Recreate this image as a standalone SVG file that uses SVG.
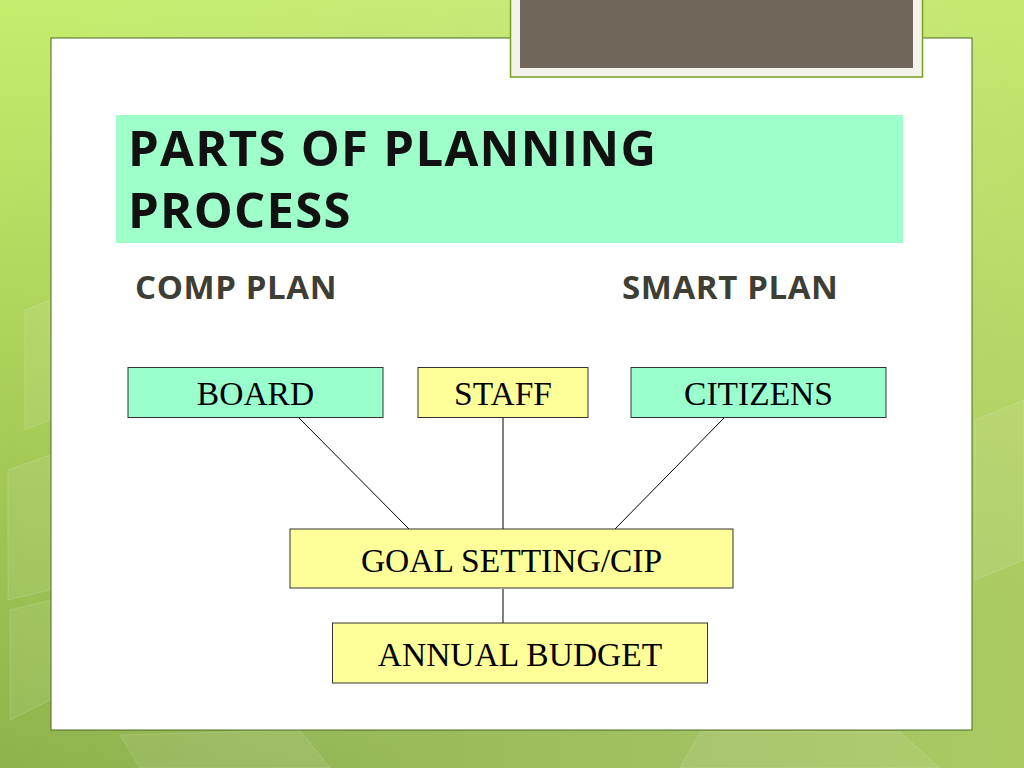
<svg xmlns="http://www.w3.org/2000/svg" width="1024" height="768" viewBox="0 0 1024 768">
<defs>
<linearGradient id="bg" x1="0" y1="0" x2="0.3" y2="1">
<stop offset="0" stop-color="#c6ee6c"/>
<stop offset="0.5" stop-color="#a8cc58"/>
<stop offset="1" stop-color="#8aae48"/>
</linearGradient>
<linearGradient id="bgr" x1="0" y1="0" x2="1" y2="0">
<stop offset="0" stop-color="#ffffff" stop-opacity="0"/>
<stop offset="1" stop-color="#e6ff90" stop-opacity="0.35"/>
</linearGradient>
<style>
.node{stroke:#333;stroke-width:1}
.teal{fill:#99ffcc}
.yel{fill:#ffff99}
.lbl{font-family:"Liberation Serif","Times New Roman",serif;font-size:33.5px;fill:#000;text-anchor:middle}
.sub{font-family:"Open Sans","Noto Sans",sans-serif;font-weight:bold;font-size:33px;letter-spacing:0.6px;fill:#3f3e34}
.ttl{font-family:"Open Sans","Noto Sans",sans-serif;font-weight:bold;font-size:49px;letter-spacing:1.3px;fill:#111}
.conn line{stroke:#000;stroke-width:1}
</style>
</defs>
<rect x="0" y="0" width="1024" height="768" fill="url(#bg)"/>
<rect x="0" y="0" width="1024" height="768" fill="url(#bgr)"/>
<g fill="#ffffff" fill-opacity="0.08" stroke="#ffffff" stroke-opacity="0.15">
<polygon points="25,310 50,300 50,420 25,430"/>
<polygon points="8,470 50,455 50,590 8,600"/>
<polygon points="10,610 50,600 50,700 10,720"/>
<polygon points="120,735 300,730 330,768 140,768"/>
<polygon points="700,732 900,732 940,768 680,768"/>
<polygon points="975,420 1024,400 1024,560 975,580"/>
</g>
<rect x="51" y="38" width="921" height="692" fill="#ffffff" stroke="#4d6a22" stroke-width="1"/>
<g id="topframe">
<rect x="510.5" y="-2" width="412" height="79" fill="#f3f3ec" stroke="#78a020" stroke-width="1.5"/>
<rect x="520" y="0" width="393" height="68" fill="#71665a"/>
</g>
<g id="title">
<rect x="116" y="115" width="787" height="128" fill="#9effca"/>
<text class="ttl" x="128" y="166">PARTS OF PLANNING</text>
<text class="ttl" x="128" y="228">PROCESS</text>
</g>
<text class="sub" x="135" y="299">COMP PLAN</text>
<text class="sub" x="622" y="299">SMART PLAN</text>
<g class="conn" id="connectors">
<line x1="299" y1="418" x2="409" y2="529"/>
<line x1="503" y1="418" x2="503" y2="529"/>
<line x1="724" y1="418" x2="615" y2="529"/>
<line x1="503" y1="589" x2="503" y2="623"/>
</g>
<g id="board">
<rect class="node teal" x="128" y="367.5" width="255" height="50"/>
<text class="lbl" x="255.5" y="405">BOARD</text>
</g>
<g id="staff">
<rect class="node yel" x="418" y="367.5" width="170" height="50"/>
<text class="lbl" x="503" y="405">STAFF</text>
</g>
<g id="citizens">
<rect class="node teal" x="631" y="367.5" width="255" height="50"/>
<text class="lbl" x="758.5" y="405">CITIZENS</text>
</g>
<g id="goal">
<rect class="node yel" x="290" y="529" width="443" height="59"/>
<text class="lbl" x="511.5" y="572">GOAL SETTING/CIP</text>
</g>
<g id="budget">
<rect class="node yel" x="332.5" y="623" width="375" height="60"/>
<text class="lbl" x="520" y="666">ANNUAL BUDGET</text>
</g>
</svg>
